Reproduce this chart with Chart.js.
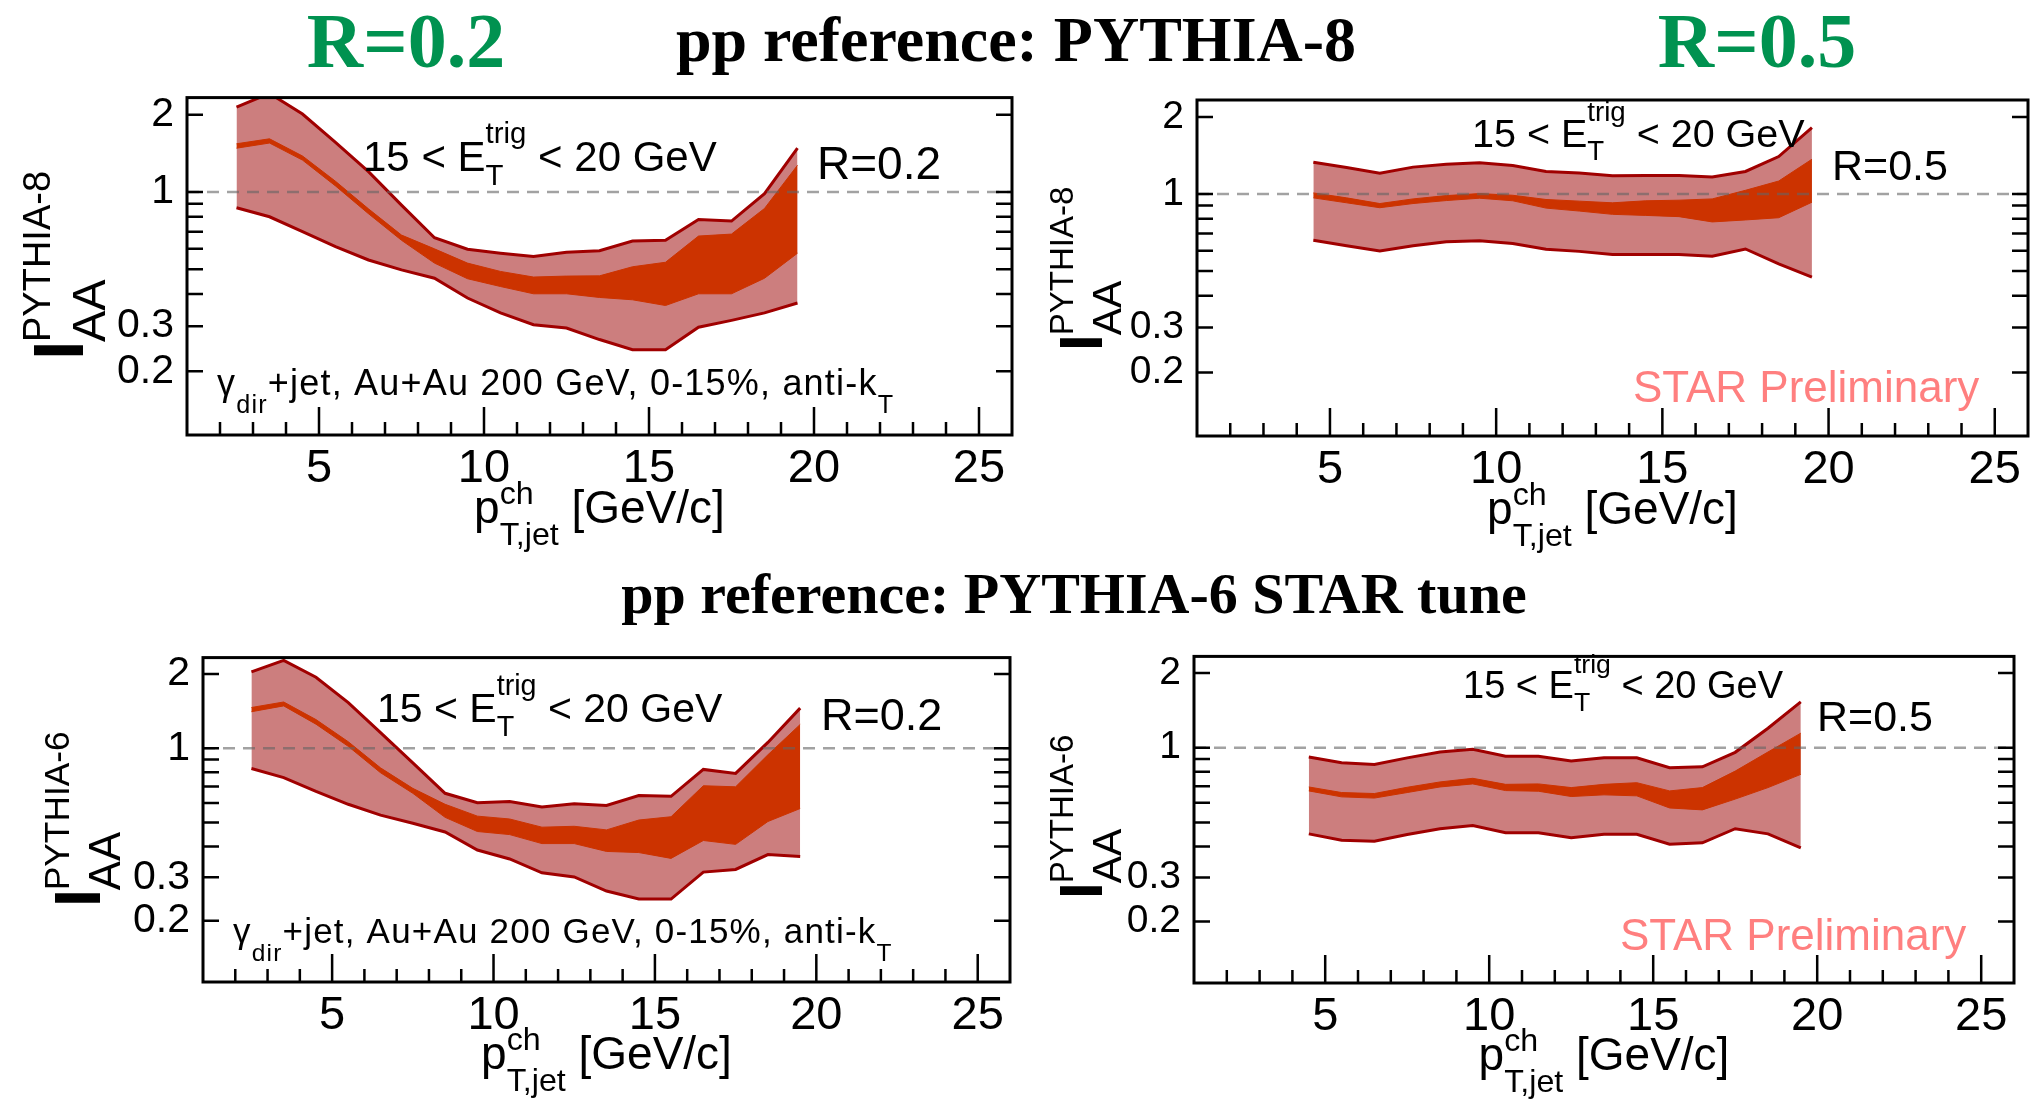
<!DOCTYPE html>
<html>
<head>
<meta charset="utf-8">
<title>IAA gamma+jet, STAR</title>
<script src="https://cdn.jsdelivr.net/npm/chart.js@4.4.1/dist/chart.umd.min.js"></script>
<style>
  html, body { margin: 0; padding: 0; background: #fff; }
  body { width: 2030px; height: 1103px; position: relative; overflow: hidden; }
  canvas { position: absolute; }
  .title { position: absolute; font-family: "Liberation Serif", "Times New Roman", serif; font-weight: bold;
           white-space: nowrap; line-height: 1; transform: translateX(-50%); color: #000; }
  .green { color: #009250; }
</style>
</head>
<body>
<div class="title green" style="left:406px; top:2px; font-size:78px;">R=0.2</div>
<div class="title" style="left:1016px; top:8px; font-size:64px;">pp reference: PYTHIA-8</div>
<div class="title green" style="left:1757px; top:2px; font-size:78px;">R=0.5</div>
<div class="title" style="left:1074px; top:565px; font-size:58px;">pp reference: PYTHIA-6 STAR tune</div>

<canvas id="c1" width="1015" height="500" style="left:0px; top:60px;"></canvas>
<canvas id="c2" width="1015" height="500" style="left:1015px; top:60px;"></canvas>
<canvas id="c3" width="1015" height="483" style="left:0px; top:620px;"></canvas>
<canvas id="c4" width="1015" height="483" style="left:1015px; top:620px;"></canvas>

<script>
const SANS = '"Liberation Sans", Arial, Helvetica, sans-serif';

// jet pT bin centres
const ptR02 = [2.5, 3.5, 4.5, 5.5, 6.5, 7.5, 8.5, 9.5, 10.5, 11.5, 12.5, 13.5, 14.5, 15.5, 16.5, 17.5, 18.5, 19.5];
const ptR05 = [4.5, 5.5, 6.5, 7.5, 8.5, 9.5, 10.5, 11.5, 12.5, 13.5, 14.5, 15.5, 16.5, 17.5, 18.5, 19.5];

// PYTHIA-8 reference, R=0.2
const p8r02SysHi = [2.14, 2.42, 2.01, 1.56, 1.20, 0.888, 0.663, 0.598, 0.577, 0.560, 0.582, 0.590, 0.644, 0.648, 0.781, 0.770, 0.985, 1.48];
const p8r02SysLo = [0.867, 0.800, 0.700, 0.612, 0.543, 0.497, 0.461, 0.386, 0.338, 0.304, 0.295, 0.266, 0.243, 0.243, 0.297, 0.316, 0.338, 0.369];
const p8r02StatHi = [1.54, 1.61, 1.38, 1.10, 0.859, 0.679, 0.600, 0.528, 0.490, 0.466, 0.470, 0.471, 0.511, 0.532, 0.673, 0.685, 0.862, 1.27];
const p8r02StatLo = [1.48, 1.55, 1.33, 1.055, 0.822, 0.648, 0.528, 0.459, 0.428, 0.401, 0.401, 0.388, 0.380, 0.361, 0.401, 0.401, 0.461, 0.577];

// PYTHIA-8 reference, R=0.5
const p8r05SysHi = [1.331, 1.269, 1.206, 1.273, 1.307, 1.323, 1.292, 1.224, 1.206, 1.178, 1.181, 1.181, 1.164, 1.224, 1.400, 1.818];
const p8r05SysLo = [0.659, 0.627, 0.598, 0.627, 0.650, 0.656, 0.640, 0.607, 0.596, 0.580, 0.580, 0.580, 0.570, 0.609, 0.532, 0.473];
const p8r05StatHi = [1.009, 0.965, 0.917, 0.956, 0.985, 1.003, 0.988, 0.951, 0.937, 0.923, 0.940, 0.945, 0.956, 1.033, 1.123, 1.367];
const p8r05StatLo = [0.965, 0.923, 0.883, 0.917, 0.942, 0.962, 0.940, 0.880, 0.857, 0.832, 0.824, 0.815, 0.777, 0.791, 0.807, 0.928];

// PYTHIA-6 STAR tune reference, R=0.2
const p6r02SysHi = [2.04, 2.27, 1.94, 1.53, 1.157, 0.872, 0.657, 0.602, 0.609, 0.578, 0.596, 0.587, 0.643, 0.639, 0.821, 0.791, 1.056, 1.454];
const p6r02SysLo = [0.828, 0.761, 0.669, 0.593, 0.536, 0.497, 0.458, 0.387, 0.356, 0.313, 0.301, 0.264, 0.245, 0.245, 0.315, 0.323, 0.371, 0.364];
const p6r02StatHi = [1.463, 1.540, 1.307, 1.063, 0.833, 0.688, 0.593, 0.531, 0.517, 0.479, 0.483, 0.467, 0.512, 0.528, 0.705, 0.698, 0.941, 1.249];
const p6r02StatLo = [1.406, 1.485, 1.252, 1.018, 0.796, 0.657, 0.525, 0.460, 0.447, 0.411, 0.411, 0.382, 0.378, 0.358, 0.423, 0.408, 0.505, 0.570];

// PYTHIA-6 STAR tune reference, R=0.5
const p6r05SysHi = [0.918, 0.869, 0.856, 0.910, 0.961, 0.985, 0.924, 0.924, 0.885, 0.910, 0.910, 0.830, 0.838, 0.958, 1.197, 1.529];
const p6r05SysLo = [0.450, 0.424, 0.420, 0.447, 0.472, 0.486, 0.455, 0.455, 0.434, 0.448, 0.448, 0.409, 0.414, 0.472, 0.450, 0.395];
const p6r05StatHi = [0.695, 0.660, 0.654, 0.693, 0.728, 0.753, 0.712, 0.715, 0.691, 0.712, 0.723, 0.670, 0.691, 0.805, 0.961, 1.144];
const p6r05StatLo = [0.670, 0.634, 0.627, 0.660, 0.695, 0.715, 0.672, 0.668, 0.636, 0.646, 0.640, 0.572, 0.562, 0.621, 0.691, 0.781];

// axis ticks
const xMajorTicks = [5, 10, 15, 20, 25];
const xMinorTicks = [2, 3, 4, 6, 7, 8, 9, 11, 12, 13, 14, 16, 17, 18, 19, 21, 22, 23, 24];
const yTickLabels = [0.2, 0.3, 1, 2];
const yMinorTicks = [0.4, 0.5, 0.6, 0.7, 0.8, 0.9];

const SYS_FILL = 'rgb(204,126,126)';
const SYS_LINE = 'rgb(160,0,0)';
const STAT_FILL = 'rgb(204,51,0)';

// panel layout, page coordinates
const panels = [
  { id: 'c1', left: 0, top: 60, w: 1015, h: 500, frame: [187, 97, 1012, 435], yFont: 41,
    xs: ptR02, sysHi: p8r02SysHi, sysLo: p8r02SysLo, statHi: p8r02StatHi, statLo: p8r02StatLo,
    yTitle: { x: 83, y: 360, k: 1, sup: 'PYTHIA-8' }, xTitleY: 523,
    trig: [363, 171, 42], rLab: ['R=0.2', 817, 179, 46], gamma: [217, 395, 36] },
  { id: 'c2', left: 1015, top: 60, w: 1015, h: 500, frame: [1197, 100, 2028, 436], yFont: 39,
    xs: ptR05, sysHi: p8r05SysHi, sysLo: p8r05SysLo, statHi: p8r05StatHi, statLo: p8r05StatLo,
    yTitle: { x: 1102, y: 351, k: 0.87, sup: 'PYTHIA-8' }, xTitleY: 524,
    trig: [1472, 147, 39.5], rLab: ['R=0.5', 1832, 180, 43], star: [1633, 402, 44] },
  { id: 'c3', left: 0, top: 620, w: 1015, h: 483, frame: [203, 653, 1010, 982], yFont: 41,
    xs: ptR02, sysHi: p6r02SysHi, sysLo: p6r02SysLo, statHi: p6r02StatHi, statLo: p6r02StatLo,
    yTitle: { x: 100, y: 907, k: 0.93, sup: 'PYTHIA-6' }, xTitleY: 1069,
    trig: [377, 722, 41], rLab: ['R=0.2', 821, 730, 45], gamma: [233, 943, 35] },
  { id: 'c4', left: 1015, top: 620, w: 1015, h: 483, frame: [1194, 653, 2014, 983], yFont: 39,
    xs: ptR05, sysHi: p6r05SysHi, sysLo: p6r05SysLo, statHi: p6r05StatHi, statLo: p6r05StatLo,
    yTitle: { x: 1102, y: 899, k: 0.87, sup: 'PYTHIA-6' }, xTitleY: 1070,
    trig: [1463, 698, 38], rLab: ['R=0.5', 1817, 731, 43], star: [1620, 950, 44] },
];
const panelById = {};
panels.forEach(p => { panelById[p.id] = p; });

// text with ROOT-like sub/superscripts; returns width
function rich(ctx, x, y, parts, size, o, draw) {
  o = o || {};
  const ss = size * (o.scale || 0.7);
  const rise = size * (o.rise || 0.62);
  const drop = size * (o.drop || 0.35);
  let cx = x;
  for (const p of parts) {
    if (typeof p === 'string') {
      ctx.font = size + 'px ' + SANS;
      if (draw) ctx.fillText(p, cx, y);
      cx += ctx.measureText(p).width;
    } else {
      ctx.font = ss + 'px ' + SANS;
      let w = 0;
      if (p.sup) { if (draw) ctx.fillText(p.sup, cx, y - rise); w = Math.max(w, ctx.measureText(p.sup).width); }
      if (p.sub) { if (draw) ctx.fillText(p.sub, cx, y + drop); w = Math.max(w, ctx.measureText(p.sub).width); }
      cx += w;
    }
  }
  return cx - x;
}

function drawYTitle(ctx, t, ox, oy) {
  const k = t.k;
  ctx.save();
  ctx.translate(t.x - ox, t.y - oy);
  ctx.rotate(-Math.PI / 2);
  ctx.font = 'bold ' + (70 * k) + 'px ' + SANS;
  ctx.fillText('I', 0, 0);
  ctx.font = (47 * k) + 'px ' + SANS;
  ctx.fillText('AA', 18 * k, 22 * k);
  ctx.font = (38 * k) + 'px ' + SANS;
  ctx.fillText(t.sup, 18 * k, -33 * k);
  ctx.restore();
}

const frameDecor = {
  id: 'frameDecor',
  afterDatasetsDraw(chart) {
    const { ctx, chartArea: a, scales: { y } } = chart;
    const yy = y.getPixelForValue(1);
    ctx.save();
    ctx.strokeStyle = 'rgba(100,100,100,0.6)';
    ctx.lineWidth = 2.5;
    ctx.setLineDash([12, 8]);
    ctx.beginPath();
    ctx.moveTo(a.left, yy);
    ctx.lineTo(a.right, yy);
    ctx.stroke();
    ctx.restore();
  },
  afterDraw(chart) {
    const p = panelById[chart.canvas.id];
    const { ctx, chartArea: a, scales: { x, y } } = chart;
    const ox = p.left, oy = p.top;
    ctx.save();
    // ticks
    ctx.strokeStyle = '#000';
    ctx.lineWidth = 2.5;
    ctx.beginPath();
    xMajorTicks.forEach(v => {
      const px = x.getPixelForValue(v);
      ctx.moveTo(px, a.bottom); ctx.lineTo(px, a.bottom - 28);
    });
    xMinorTicks.forEach(v => {
      const px = x.getPixelForValue(v);
      ctx.moveTo(px, a.bottom); ctx.lineTo(px, a.bottom - 13);
    });
    yTickLabels.concat(yMinorTicks).forEach(v => {
      const py = y.getPixelForValue(v);
      ctx.moveTo(a.left, py); ctx.lineTo(a.left + 16, py);
      ctx.moveTo(a.right, py); ctx.lineTo(a.right - 16, py);
    });
    ctx.stroke();
    // frame
    ctx.lineWidth = 3;
    ctx.strokeRect(a.left, a.top, a.right - a.left, a.bottom - a.top);

    // labels
    ctx.fillStyle = '#000';
    ctx.textAlign = 'left';
    ctx.textBaseline = 'alphabetic';
    const t = p.trig;
    rich(ctx, t[0] - ox, t[1] - oy, ['15 < E', { sup: 'trig', sub: 'T' }, ' < 20 GeV'], t[2], { rise: 0.66, drop: 0.34 }, true);
    const r = p.rLab;
    ctx.font = r[3] + 'px ' + SANS;
    ctx.fillText(r[0], r[1] - ox, r[2] - oy);
    if (p.gamma) {
      const g = p.gamma;
      ctx.letterSpacing = '1.2px';
      rich(ctx, g[0] - ox, g[1] - oy, ['\u03b3', { sub: 'dir' }, '+jet, Au+Au 200 GeV, 0-15%, anti-k', { sub: 'T' }], g[2], { drop: 0.5 }, true);
      ctx.letterSpacing = '0px';
    }
    if (p.star) {
      const s = p.star;
      ctx.fillStyle = '#ff7f7f';
      ctx.font = s[2] + 'px ' + SANS;
      ctx.fillText('STAR Preliminary', s[0] - ox, s[1] - oy);
      ctx.fillStyle = '#000';
    }
    // x-axis title, centred on the frame
    const xt = ['p', { sup: 'ch', sub: 'T,jet' }, ' [GeV/c]'];
    const xo = { rise: 0.42, drop: 0.48 };
    const wt = rich(ctx, 0, 0, xt, 46, xo, false);
    rich(ctx, (a.left + a.right) / 2 - wt / 2, p.xTitleY - oy, xt, 46, xo, true);
    // y-axis title
    drawYTitle(ctx, p.yTitle, ox, oy);
    ctx.restore();
  }
};

function pts(xs, ys) {
  return xs.map((x, i) => ({ x: x, y: ys[i] }));
}

function bandDatasets(p) {
  return [
    { label: 'sys hi', data: pts(p.xs, p.sysHi), borderColor: SYS_LINE, borderWidth: 3, backgroundColor: SYS_FILL, fill: '+1', order: 4 },
    { label: 'sys lo', data: pts(p.xs, p.sysLo), borderColor: SYS_LINE, borderWidth: 3, fill: false, order: 3 },
    { label: 'stat hi', data: pts(p.xs, p.statHi), borderColor: STAT_FILL, borderWidth: 1, backgroundColor: STAT_FILL, fill: '+1', order: 2 },
    { label: 'stat lo', data: pts(p.xs, p.statLo), borderColor: STAT_FILL, borderWidth: 1, fill: false, order: 1 },
  ];
}

function makeChart(p) {
  const fl = p.frame[0], ft = p.frame[1], fr = p.frame[2], fb = p.frame[3];
  return new Chart(document.getElementById(p.id), {
    type: 'line',
    data: { datasets: bandDatasets(p) },
    options: {
      responsive: false,
      animation: false,
      events: [],
      layout: { padding: { top: ft - p.top, right: p.left + p.w - fr, left: 0, bottom: 0 } },
      elements: { point: { radius: 0 }, line: { tension: 0 } },
      plugins: { legend: { display: false }, tooltip: { enabled: false } },
      scales: {
        x: {
          type: 'linear', min: 1, max: 26,
          afterBuildTicks: s => { s.ticks = xMajorTicks.map(v => ({ value: v })); },
          afterFit: s => { s.height = p.top + p.h - fb; },
          grid: { display: false, drawTicks: false },
          border: { display: false },
          ticks: { padding: 6, color: '#000', font: { family: SANS, size: 47 }, maxRotation: 0, autoSkip: false },
        },
        y: {
          type: 'logarithmic', min: 0.113, max: 2.33,
          afterBuildTicks: s => { s.ticks = yTickLabels.map(v => ({ value: v })); },
          afterFit: s => { s.width = fl - p.left; },
          grid: { display: false, drawTicks: false },
          border: { display: false },
          ticks: { padding: 13, color: '#000', font: { family: SANS, size: p.yFont }, autoSkip: false,
                   callback: v => String(v) },
        },
      },
    },
    plugins: [frameDecor],
  });
}

panels.forEach(makeChart);
</script>
</body>
</html>
